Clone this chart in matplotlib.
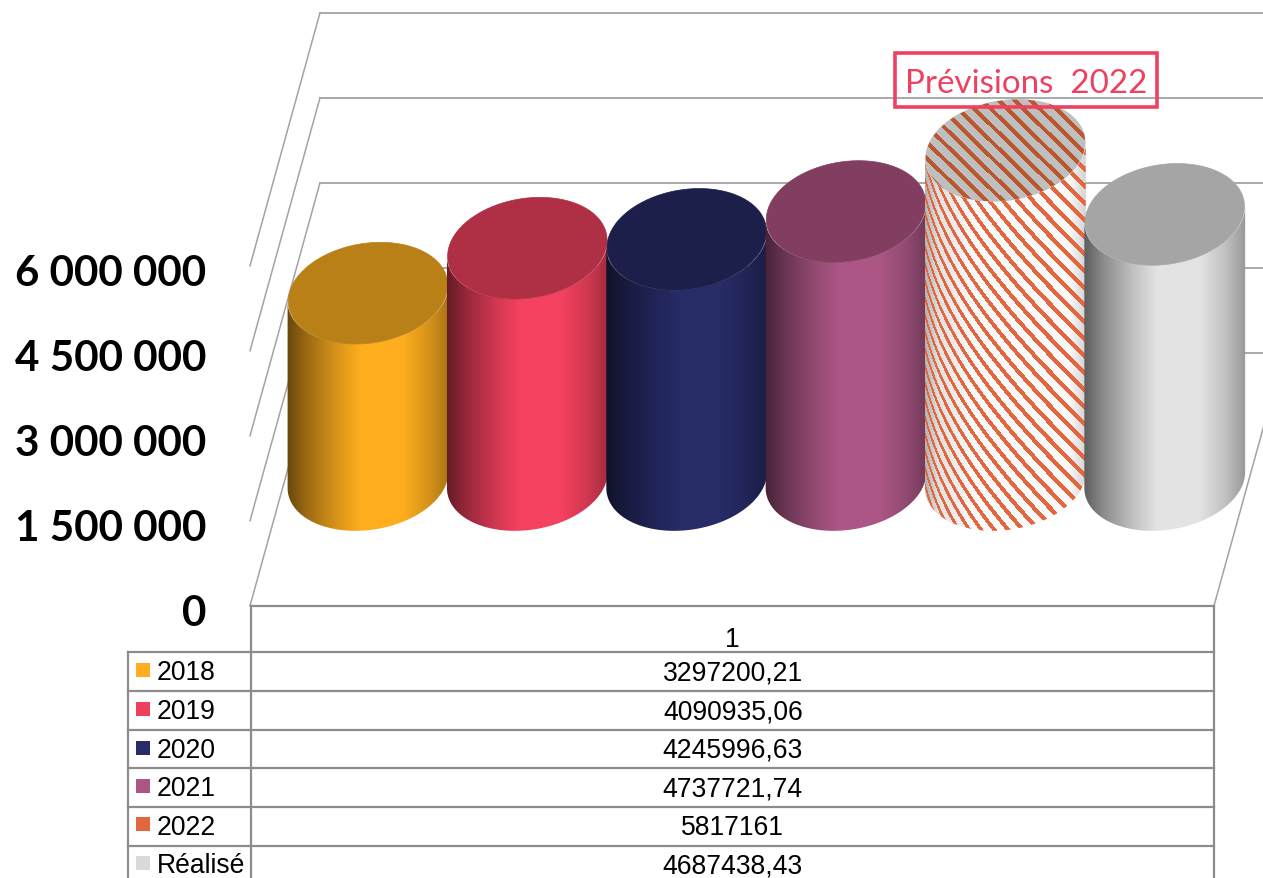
import numpy as np
import matplotlib
matplotlib.use("Agg")
import matplotlib.pyplot as plt
from matplotlib.patches import Polygon, Rectangle
from matplotlib.colors import to_rgb

# ---- data ----
series_names = ["2018", "2019", "2020", "2021", "2022", "Réalisé"]
series_values = [3297200.21, 4090935.06, 4245996.63, 4737721.74, 5817161, 4687438.43]
value_labels = ["3297200,21", "4090935,06", "4245996,63", "4737721,74", "5817161", "4687438,43"]
series_colors = ["#FDAD1E", "#F4415F", "#272B66", "#AB5685", "#E2673E", "#E3E3E3"]
legend_colors = ["#FDAD1E", "#EE3F5F", "#272B66", "#AB5685", "#E2673E", "#D9D9D9"]
top_colors = ["#BA8018", "#AF2F45", "#1C1F4A", "#823E61", "#BFBFBF", "#A5A5A5"]
axis_ticks = [0, 1500000, 3000000, 4500000, 6000000]
axis_labels = ["0", "1 500 000", "3 000 000", "4 500 000", "6 000 000"]
category_label = "1"
note_text = "Prévisions  2022"
hatched_series = "2022"

W, H = 1263, 879
fig = plt.figure(figsize=(W / 100, H / 100), dpi=100, facecolor="white")

# pixel-space layer for furniture, value-space axes for the marks
ax = fig.add_axes([0, 0, 1, 1])
ax.set_xlim(0, W)
ax.set_ylim(H, 0)
ax.axis("off")
ax.set_autoscale_on(False)

PX_PER_UNIT = 85 / 1500000
STEP = 159.35
val = fig.add_axes([0, 0, 1, 1], sharex=None)
val.set_xlim(-368 / STEP, (W - 368) / STEP)
val.set_ylim(-(H - 481) / PX_PER_UNIT, 481 / PX_PER_UNIT)
val.patch.set_alpha(0)
val.axis("off")


def to_px(i, v):
    d = val.transData.transform((i, v))
    return ax.transData.inverted().transform(d)


# ---- walls and grid ----
GRID = "#A3A3A3"
FRONT_X, BACK_X, FRONT_RIGHT = 250, 320, 1214
FRONT_Y0, BACK_Y0 = 606.8, 353.8
for t in axis_ticks:
    h = t * PX_PER_UNIT
    ax.plot([FRONT_X, BACK_X], [FRONT_Y0 - h, BACK_Y0 - h], color=GRID, lw=1.1, zorder=1)
    ax.plot([BACK_X, W + 5], [BACK_Y0 - h, BACK_Y0 - h], color=GRID, lw=1.3, zorder=1)
ax.plot([FRONT_RIGHT, FRONT_RIGHT + (BACK_X - FRONT_X)], [FRONT_Y0, BACK_Y0], color=GRID, lw=1.1, zorder=1)

# ---- cylinders ----
R, B, TILT = 79.7, 50.2, 8.0
PROFILE_T = [0.0, 0.12, 0.3, 0.45, 0.72, 0.88, 1.0]
PROFILE_S = [0.42, 0.62, 0.85, 1.0, 1.0, 0.85, 0.68]


def ellipse(cx, cy, t, r=R):
    return np.column_stack([cx + r * np.cos(t), cy + B * np.sin(t) - TILT * np.cos(t)])


for i, (name, v, c, tc) in enumerate(zip(series_names, series_values, series_colors, top_colors)):
    cx, cy_top = to_px(i, v)
    _, cy_bot = to_px(i, 0)
    # body clip is a hair wider so neighbouring cylinders leave no white seam
    body = np.vstack([
        ellipse(cx, cy_bot, np.linspace(np.pi, 0, 120), R + 0.7),
        ellipse(cx, cy_top, np.linspace(0, np.pi, 120), R + 0.7),
    ])
    top = ellipse(cx, cy_top, np.linspace(0, 2 * np.pi, 240))
    z = 3 + i
    body_patch = Polygon(body, closed=True, transform=ax.transData, fc="none", ec="none")
    top_patch = Polygon(top, closed=True, transform=ax.transData, fc=tc, ec=tc, lw=0.5)
    ax.add_patch(body_patch)
    ax.add_patch(top_patch)
    body_patch.set_zorder(z)
    top_patch.set_zorder(z + 0.5)

    xs = np.arange(int(cx - R) - 4, int(cx + R) + 5)
    ts = np.clip((xs + 0.5 - (cx - R)) / (2 * R), 0, 1)
    shade = np.interp(ts, PROFILE_T, PROFILE_S)
    x0, x1 = xs[0], xs[-1] + 1
    y0, y1 = int(cy_top - B - 20), int(cy_bot + B + 20)
    if name == hatched_series:
        ys = np.arange(y0, y1)
        ph = np.interp(ts, [0, 0.08, 0.3, 0.9, 1], [0.72, 0.9, 1, 1, 0.85])
        S = 2 * R * (0.7 * ts + 0.3 * np.log(ts + 0.1))
        X, Y = np.meshgrid(S, ys + 0.5)
        phase = ((Y - X) / 17.0) % 1.0
        mask = phase < 0.37
        bg = np.array([0.98, 0.98, 0.98]) * ph[None, :, None]
        fg = np.array(to_rgb(c))
        rgb = np.where(mask[..., None], fg, bg)
        im = ax.imshow(rgb, extent=(x0, x1, y1, y0), origin="upper", aspect="auto",
                       interpolation="nearest", zorder=z)
        im.set_clip_path(body_patch)
        XX, YY = np.meshgrid(xs + 0.5, ys + 0.5)
        ptop = ((YY - 0.98 * XX) / 16.0) % 1.0
        rgb2 = np.where((ptop < 0.36)[..., None], np.array(to_rgb("#B9582F")), np.array(to_rgb(tc)))
        im2 = ax.imshow(rgb2, extent=(x0, x1, y1, y0), origin="upper", aspect="auto",
                        interpolation="nearest", zorder=z + 0.6)
        im2.set_clip_path(top_patch)
    else:
        rgb = (np.array(to_rgb(c))[None, None, :] * shade[None, :, None]).clip(0, 1)
        im = ax.imshow(rgb, extent=(x0, x1, y1, y0), origin="upper", aspect="auto",
                       interpolation="nearest", zorder=z)
        im.set_clip_path(body_patch)

# ---- value axis labels ----
for t, lab in zip(axis_ticks, axis_labels):
    y = FRONT_Y0 - t * PX_PER_UNIT + 7
    ax.text(206, y, lab, ha="right", va="center", family="Lato", fontweight="bold",
            fontsize=30.3, color="black", zorder=20)

# ---- annotation ----
ax.add_patch(Rectangle((895, 53.5), 262, 54, fc="none", ec="#EE4060", lw=2.6, zorder=21))
ax.text(1026, 84, note_text, ha="center", va="center", family="Lato", fontsize=23.9,
        color="#EE4060", zorder=22)

# ---- data table ----
LINE = "#8C8C8C"
row_lines = [652.7, 692, 730.7, 769, 807.7, 846.7]
row_mid = [673.5, 712.5, 751, 789.5, 828, 866.5]
LEFT, COL, RIGHT = 127.5, 251, 1213.5
ax.plot([COL, RIGHT], [607, 607], color=LINE, lw=1.6, zorder=10)
ax.plot([COL, COL], [607, H], color=LINE, lw=1.6, zorder=10)
ax.plot([RIGHT, RIGHT], [607, H], color=LINE, lw=1.6, zorder=10)
ax.plot([LEFT, LEFT], [652.7, H], color=LINE, lw=1.6, zorder=10)
for yl in row_lines:
    ax.plot([LEFT, RIGHT], [yl, yl], color=LINE, lw=1.6, zorder=10)
TXT = dict(family="Liberation Sans", fontsize=19.1, color="black", va="center", zorder=20)
ax.text((COL + RIGHT) / 2 + 0.5, 640.5, category_label, ha="center", **TXT)
for name, lab, col, ym in zip(series_names, value_labels, legend_colors, row_mid):
    ax.add_patch(Rectangle((136, ym - 9.5), 14, 14, fc=col, ec="none", zorder=15))
    ax.text(157, ym, name, ha="left", **TXT)
    ax.text((COL + RIGHT) / 2 + 0.5, ym, lab, ha="center", **TXT)

fig.savefig("out.png", dpi=100, facecolor="white")
